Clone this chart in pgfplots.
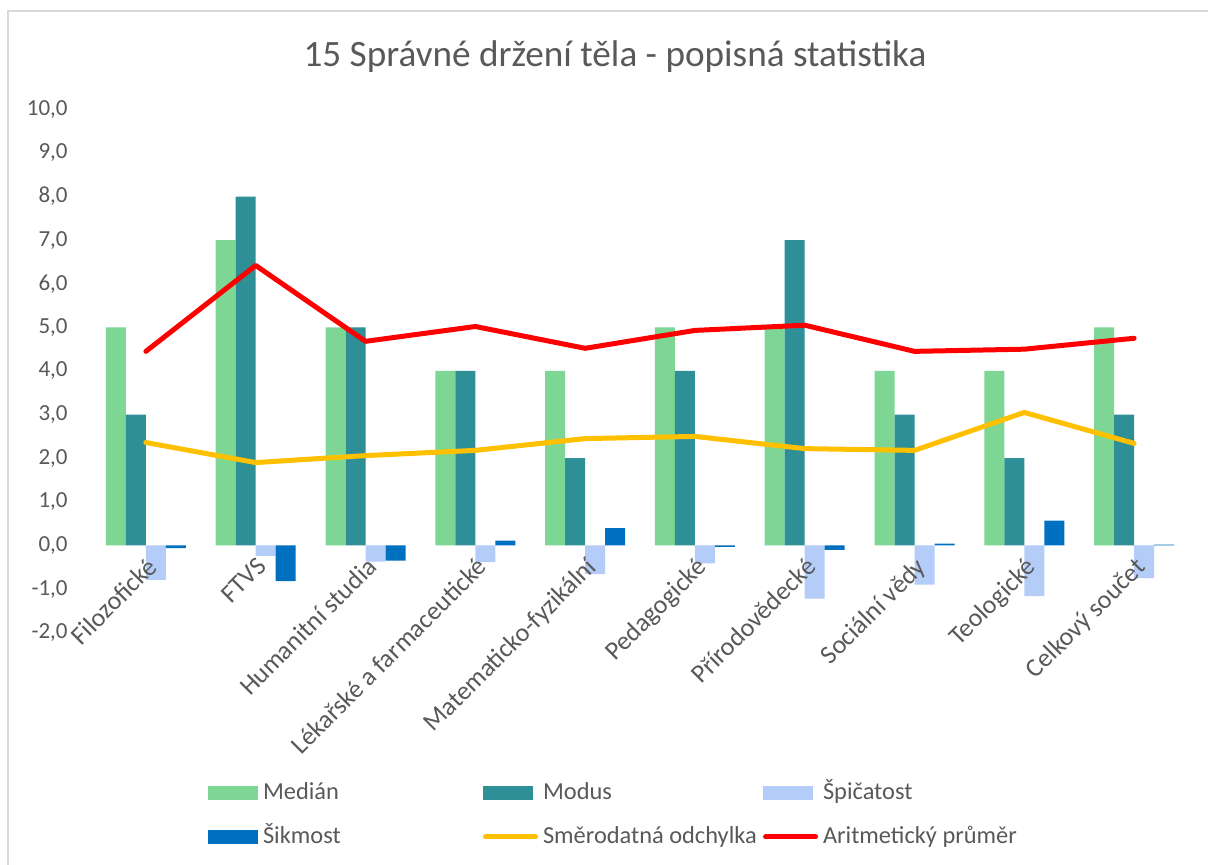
\documentclass[border=0pt]{standalone}
\usepackage{fontspec}
\setmainfont{Carlito}
\usepackage{pgfplots}
\pgfplotsset{compat=1.18}
\definecolor{cMed}{HTML}{7DD693}
\definecolor{cMod}{HTML}{2E8F96}
\definecolor{cSpi}{HTML}{B4CDF8}
\definecolor{cSik}{HTML}{0070C0}
\definecolor{cGold}{HTML}{FFC000}
\definecolor{cRed}{HTML}{FF0000}
\definecolor{cText}{HTML}{595959}
\definecolor{gMaj}{HTML}{D9D9D9}
\definecolor{gMin}{HTML}{F0F0F0}
% fixed legend cell width
\newcommand{\legw}[1]{\makebox[110pt][l]{#1}}
% tick labels above the bars
\pgfplotsset{
  layers/labelsontop/.define layer set={axis background,axis grid,axis ticks,axis lines,pre main,main,axis tick labels,axis descriptions,axis foreground}{
    grid style={/pgfplots/on layer=axis grid},
    tick style={/pgfplots/on layer=axis ticks},
    axis line style={/pgfplots/on layer=axis lines},
    label style={/pgfplots/on layer=axis descriptions},
    legend style={/pgfplots/on layer=axis descriptions},
    title style={/pgfplots/on layer=axis descriptions},
    ticklabel style={/pgfplots/on layer=axis tick labels},
  },
}
\begin{document}
\begin{tikzpicture}
\fill[white] (-45.5pt,-116.15pt) rectangle (558.5pt,316.35pt);
\begin{axis}[
  set layers=labelsontop,
  at={(0pt,0pt)}, anchor=south west,
  scale only axis, width=549pt, height=261.7pt,
  xmin=-0.5, xmax=9.5, ymin=-2, ymax=10,
  axis line style={draw=none},
  major tick length=0pt, minor tick length=0pt,
  ytick={-2,-1,...,10},
  minor ytick={-1.5,-0.5,...,9.5},
  ymajorgrids, yminorgrids,
  major grid style={color=gMaj, line width=0.8pt},
  minor grid style={color=gMin, line width=0.8pt},
  tick label style={font=\fontsize{11.5}{13}\selectfont, text=cText},
  y tick label style={/pgf/number format/.cd, fixed, fixed zerofill, precision=1, use comma, assume math mode=true, /tikz/.cd, anchor=east, inner sep=0pt, xshift=-11.5pt},
  xtick={0,...,9},
  xticklabels={Filozofické, FTVS, Humanitní studia, Lékařské a farmaceutické, Matematicko-fyzikální, Pedagogické, Přírodovědecké, Sociální vědy, Teologické, Celkový součet},
  x tick label style={font=\fontsize{13}{15}\selectfont, xshift=0pt, yshift=38.6pt, rotate=45, anchor=north east, inner sep=0pt},
  legend columns=3,
  legend cell align=left,
  legend style={at={(0.1066,-0.2833)}, anchor=north west, draw=none, fill=none,
    inner sep=0pt, outer sep=0pt, row sep=10pt,
    font=\fontsize{12.2}{15}\selectfont, text=cText,
    nodes={inner sep=0pt, text height=9.5pt, text depth=2.5pt},
    /tikz/every odd column/.append style={column sep=2.5pt}},
]
\addplot[fill=cMed, draw=none, ybar, bar width=10pt, bar shift=-15pt,
  legend image code/.code={\fill[cMed] (0pt,-3.5pt) rectangle (25pt,3.5pt);}]
  coordinates {(0,5) (1,7) (2,5) (3,4) (4,4) (5,5) (6,5) (7,4) (8,4) (9,5)};
\addlegendentry{\legw{Medián}}
\addplot[fill=cMod, draw=none, ybar, bar width=10pt, bar shift=-5pt,
  legend image code/.code={\fill[cMod] (0pt,-3.5pt) rectangle (25pt,3.5pt);}]
  coordinates {(0,3) (1,8) (2,5) (3,4) (4,2) (5,4) (6,7) (7,3) (8,2) (9,3)};
\addlegendentry{\legw{Modus}}
\addplot[fill=cSpi, draw=none, ybar, bar width=10pt, bar shift=5pt,
  legend image code/.code={\fill[cSpi] (0pt,-3.5pt) rectangle (25pt,3.5pt);}]
  coordinates {(0,-0.79) (1,-0.24) (2,-0.37) (3,-0.38) (4,-0.66) (5,-0.41) (6,-1.22) (7,-0.90) (8,-1.16) (9,-0.75)};
\addlegendentry{\legw{Špičatost}}
\addplot[fill=cSik, draw=none, ybar, bar width=10pt, bar shift=15pt,
  legend image code/.code={\fill[cSik] (0pt,-3.5pt) rectangle (25pt,3.5pt);}]
  coordinates {(0,-0.06) (1,-0.82) (2,-0.35) (3,0.11) (4,0.40) (5,-0.03) (6,-0.10) (7,0.04) (8,0.57) (9,0.02)};
\addlegendentry{\legw{Šikmost}}
\addplot[cGold, line width=2.5pt, line join=round, line cap=round,
  legend image code/.code={\draw[cGold, line width=2.5pt, line cap=round] (1.25pt,0pt) -- (26.25pt,0pt);}]
  coordinates {(0,2.36) (1,1.90) (2,2.06) (3,2.18) (4,2.45) (5,2.50) (6,2.22) (7,2.18) (8,3.05) (9,2.34)};
\addlegendentry{\makebox[106pt][l]{Směrodatná odchylka}}
\addplot[cRed, line width=2.5pt, line join=round, line cap=round,
  legend image code/.code={\draw[cRed, line width=2.5pt, line cap=round] (1.25pt,0pt) -- (26.25pt,0pt);}]
  coordinates {(0,4.45) (1,6.42) (2,4.68) (3,5.02) (4,4.52) (5,4.93) (6,5.05) (7,4.45) (8,4.50) (9,4.75)};
\addlegendentry{\legw{Aritmetický průměr}}
\end{axis}
\node[anchor=base, font=\fontsize{18.6}{21}\selectfont, text=cText] at (262pt,283pt) {15 Správné držení těla - popisná statistika};
\pgfresetboundingbox
\path[use as bounding box] (-45.5pt,-116.15pt) rectangle (558.5pt,316.35pt);
\draw[gMaj, line width=1pt] (-41.5pt,-120pt) -- (-41.5pt,310.85pt) -- (565pt,310.85pt);
\end{tikzpicture}
\end{document}
